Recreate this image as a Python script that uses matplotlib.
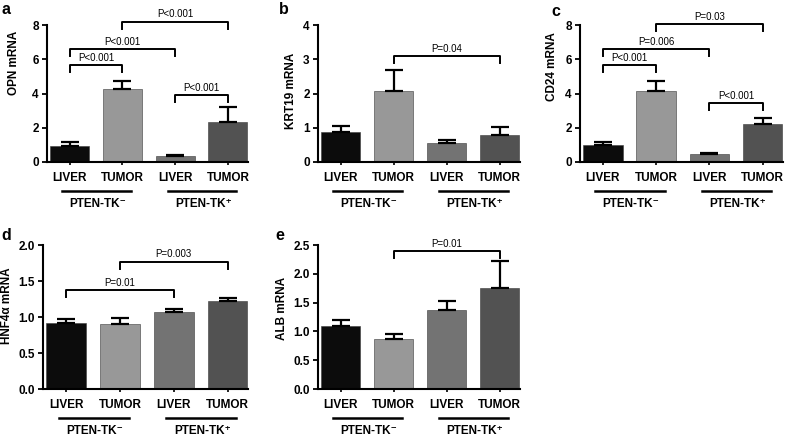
import numpy as np
import matplotlib
matplotlib.use("Agg")
import matplotlib.pyplot as plt
import matplotlib.transforms as mtransforms
from matplotlib.lines import Line2D

plt.rcParams['font.family'] = ['Liberation Sans', 'DejaVu Sans']

# -----------------------------------------------------------------
# data

categories = ["LIVER", "TUMOR", "LIVER", "TUMOR"]
groups = ["PTEN-TK\u207b", "PTEN-TK\u207a"]
bar_colors = ["#0c0c0c", "#989898", "#737373", "#525252"]

opn_mean = [0.96, 4.28, 0.36, 2.36]
opn_err = [0.18, 0.47, 0.07, 0.88]
opn_pvals = [(0, 1, 5.67, "P<0.001"), (0, 2, 6.60, "P<0.001"),
             (1, 3, 8.20, "P<0.001"), (2, 3, 3.92, "P<0.001")]

krt19_mean = [0.87, 2.07, 0.56, 0.79]
krt19_err = [0.18, 0.63, 0.07, 0.24]
krt19_pvals = [(1, 3, 3.10, "P=0.04")]

cd24_mean = [0.97, 4.12, 0.44, 2.20]
cd24_err = [0.17, 0.63, 0.08, 0.38]
cd24_pvals = [(0, 1, 5.67, "P<0.001"), (0, 2, 6.58, "P=0.006"),
              (1, 3, 8.06, "P=0.03"), (2, 3, 3.44, "P<0.001")]

hnf4a_mean = [0.92, 0.90, 1.07, 1.22]
hnf4a_err = [0.05, 0.09, 0.04, 0.05]
hnf4a_pvals = [(0, 2, 1.38, "P=0.01"), (1, 3, 1.77, "P=0.003")]

alb_mean = [1.09, 0.86, 1.37, 1.76]
alb_err = [0.10, 0.09, 0.15, 0.46]
alb_pvals = [(1, 3, 2.40, "P=0.01")]

# -----------------------------------------------------------------

W, H = 791, 437
fig = plt.figure(figsize=(W / 100, H / 100), dpi=100)


def px_axes(left, top, right, bottom):
    return fig.add_axes([left / W, 1 - bottom / H, (right - left) / W, (bottom - top) / H])


def offset(ax, dy_px):
    return (mtransforms.blended_transform_factory(ax.transData, ax.transAxes)
            + mtransforms.ScaledTranslation(0, -dy_px / 100, fig.dpi_scale_trans))


def panel(box, means, errs, pvals, ymax, ystep, ylabel, ylab_pos, fmt):
    ax = px_axes(*box)
    x = np.arange(len(means))
    ax.bar(x, means, width=0.74, color=bar_colors, edgecolor="#3a3a3a", linewidth=0.4, zorder=2)
    ax.errorbar(x, means, yerr=[np.zeros(len(errs)), errs], fmt="none", ecolor="black",
                elinewidth=1.6, capsize=6.5, capthick=1.6, zorder=3)
    ax.set_xlim(-0.43, 3.38)
    ax.set_ylim(0, ymax)
    ticks = np.arange(0, ymax + ystep / 2, ystep)
    ax.set_yticks(ticks)
    ax.set_yticklabels([fmt.format(v) for v in ticks])
    ax.set_xticks(x)
    ax.set_xticklabels(categories)
    for s in ["top", "right"]:
        ax.spines[s].set_visible(False)
    for s in ["left", "bottom"]:
        ax.spines[s].set_linewidth(1.5)
    ax.tick_params(axis="y", length=3.5, width=1.3, pad=2.5, labelsize=8.5)
    ax.tick_params(axis="x", length=2.5, width=1.2, pad=5, labelsize=8.5)
    for lab in ax.get_xticklabels() + ax.get_yticklabels():
        lab.set_fontweight("bold")
    ax.set_ylabel(ylabel, fontsize=8.5, fontweight="bold", va="center")
    ax.yaxis.set_label_coords(*ylab_pos)

    # group underlines and names
    for k, (i, j) in enumerate([(0, 1), (2, 3)]):
        ax.add_line(Line2D([i - 0.14, j + 0.16], [0, 0], color="black", lw=1.8,
                           transform=offset(ax, 29), clip_on=False))
        ax.text((i + j) / 2 + 0.03, 0, groups[k], ha="center", va="center", fontsize=8.5,
                fontweight="bold", transform=offset(ax, 42))

    # significance brackets
    drop = 0.052 * ymax
    for i, j, y, label in pvals:
        ax.plot([i, i, j, j], [y - drop, y, y, y - drop], color="black", lw=1.4,
                clip_on=False, zorder=4)
        ax.annotate(label, xy=((i + j) / 2, y), xytext=(0, 1.5), textcoords="offset points",
                    ha="center", va="bottom", fontsize=7, annotation_clip=False)
    return ax


panel((47, 25, 248, 162), opn_mean, opn_err, opn_pvals, 8, 2, "OPN mRNA", (-0.165, 0.72), "{:.0f}")
panel((318, 25, 520, 162), krt19_mean, krt19_err, krt19_pvals, 4, 1, "KRT19 mRNA", (-0.132, 0.52), "{:.0f}")
panel((580, 25, 783, 162), cd24_mean, cd24_err, cd24_pvals, 8, 2, "CD24 mRNA", (-0.136, 0.70), "{:.0f}")
panel((43, 245, 248, 389), hnf4a_mean, hnf4a_err, hnf4a_pvals, 2.0, 0.5, "HNF4\u03b1 mRNA", (-0.176, 0.58), "{:.1f}")
panel((318, 245, 520, 389), alb_mean, alb_err, alb_pvals, 2.5, 0.5, "ALB mRNA", (-0.176, 0.56), "{:.1f}")

# panel letters
for letter, (px, py) in zip("abcde", [(6, 10), (284, 9), (556, 11), (6, 235), (280, 235)]):
    fig.text(px / W, 1 - py / H, letter, ha="center", va="center", fontsize=11.5, fontweight="bold")

fig.savefig("out.png", dpi=100)
